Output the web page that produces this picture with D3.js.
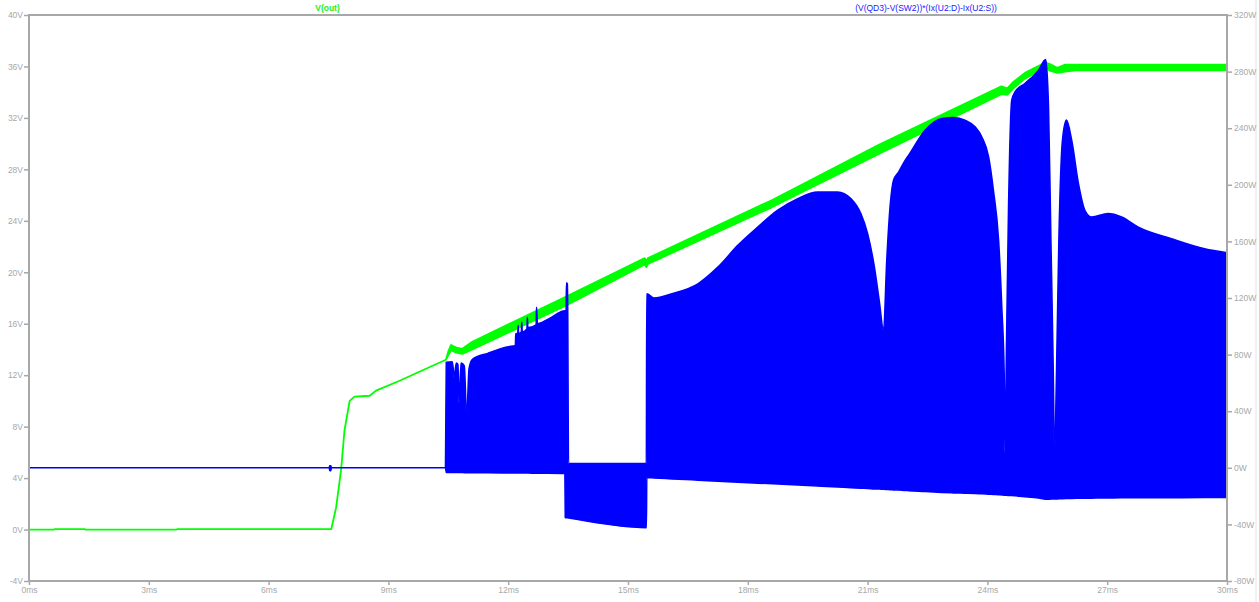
<!DOCTYPE html>
<html>
<head>
<meta charset="utf-8">
<script src="https://d3js.org/d3.v7.min.js"></script>
<style>
  body { margin: 0; background: #fff; }
  svg { display: block; }
  .tick text { font-family: "Liberation Sans", Arial, sans-serif; font-size: 8.5px; fill: #a8a8a8; }
  .tick line { stroke: #a8a8a8; stroke-width: 1.5; }
  .domain { display: none; }
</style>
</head>
<body>
<svg id="chart" width="1259" height="602"></svg>
<script>
// time axis, ms
const timeTicks = [0, 3, 6, 9, 12, 15, 18, 21, 24, 27, 30];
const voltTicks = [-4, 0, 4, 8, 12, 16, 20, 24, 28, 32, 36, 40];
const wattTicks = [-80, -40, 0, 40, 80, 120, 160, 200, 240, 280, 320];

// V(out): ripple band, upper and lower edge (V)
const voutT  = [0, 0.63, 0.64, 1.4, 1.41, 3.7, 3.71, 7.57, 7.69, 7.78, 7.82, 7.9, 8.03, 8.15, 8.53, 8.69, 9.28, 9.94, 10.44, 10.5, 10.57, 10.7, 10.85, 11.1, 13.44, 15.42, 15.46, 15.5, 18.6, 21.28, 24.35, 24.5, 24.65, 24.94, 25.45, 25.55, 25.75, 25.95, 26.2, 30];
const voutHi = [0, 0, 0.04, 0.04, 0, 0, 0.04, 0.04, 1.7, 3.8, 4.8, 7.7, 10.0, 10.33, 10.4, 10.8, 11.57, 12.5, 13.2, 13.85, 14.35, 14.15, 14.05, 14.6, 18.1, 21.1, 20.9, 21.1, 25.6, 29.9, 34.45, 34.3, 34.8, 35.5, 36.3, 36.2, 35.9, 36.15, 36.15, 36.15];
const voutLo = [0, 0, 0.04, 0.04, 0, 0, 0.04, 0.04, 1.7, 3.8, 4.8, 7.7, 10.0, 10.33, 10.4, 10.8, 11.57, 12.5, 13.2, 13.55, 13.95, 13.75, 13.65, 14.0, 17.4, 20.6, 20.4, 20.65, 25.05, 29.2, 33.85, 33.8, 34.3, 35.05, 35.95, 35.7, 35.5, 35.6, 35.7, 35.7];

// (V(QD3)-V(SW2))*(Ix(U2:D)-Ix(U2:S)): switching envelope (W)
const pwrT  = [0, 7.52, 7.53, 7.56, 7.57, 10.43, 10.45, 10.6, 10.65, 10.7, 10.74, 10.77, 10.82, 10.9, 10.96, 11.02, 11.1, 11.5, 12.0, 12.18, 12.19, 12.24, 12.25, 12.26, 12.33, 12.34, 12.35, 12.47, 12.48, 12.49, 12.7, 12.71, 12.73, 13.0, 13.42, 13.43, 13.45, 13.46, 13.48, 13.49, 13.51, 15.46, 15.47, 15.65, 16.1, 16.75, 17.25, 17.75, 18.25, 18.75, 19.25, 19.75, 20.25, 20.58, 20.83, 21.0, 21.17, 21.29, 21.4, 21.48, 21.57, 21.65, 21.78, 21.94, 22.03, 22.44, 22.86, 23.15, 23.44, 23.69, 23.86, 24.03, 24.15, 24.28, 24.36, 24.42, 24.44, 24.48, 24.53, 24.61, 24.7, 24.94, 25.28, 25.46, 25.53, 25.59, 25.65, 25.68, 25.73, 25.79, 25.88, 25.98, 26.11, 26.28, 26.44, 26.61, 27.02, 27.36, 27.78, 28.61, 29.44, 30];
const pwrHi = [0, 0, 1.5, 1.5, 0, 0, 74.6, 75, 64, 74, 73, 46, 74, 72, 35.6, 70, 76.5, 81, 85.5, 86.4, 94.7, 95, 100.5, 95, 96, 102.9, 96, 98, 106.4, 99, 101, 113.5, 101.7, 105, 111, 111, 111.1, 130.8, 130, 112, 3.0, 3.0, 123, 120, 123, 130, 141.8, 157.2, 170.1, 182, 190.2, 194.9, 194.9, 190.2, 179.6, 165.5, 141.8, 118.2, 97, 146.6, 186.7, 203.2, 209.1, 217.3, 221, 238.6, 246.9, 247.6, 245.7, 241, 233.8, 219.7, 196.1, 160.7, 113.5, 66.3, 9.7, 90, 184.3, 259.8, 266, 271.6, 281, 288.6, 255.1, 160.7, 66.3, 6.1, 66, 160.7, 231.5, 245.7, 231.5, 200.8, 182, 177.2, 179.6, 177.2, 170.1, 161.9, 154.8, 152];
const pwrLo = [0, 0, -2, -2, 0, 0, -3.3, -3.3, -3.3, -3.3, -3.3, -3.3, -3.3, -3.4, -3.4, -3.4, -3.4, -3.5, -3.6, -3.6, -3.6, -3.6, -3.6, -3.6, -3.6, -3.6, -3.7, -3.7, -3.7, -3.7, -3.8, -3.8, -3.8, -3.9, -4.0, -35.2, -35.2, -35.3, -35.3, -35.3, -35.4, -42.3, -6.9, -7.2, -7.8, -8.7, -9.4, -10.1, -10.8, -11.5, -12.2, -12.9, -13.6, -14.0, -14.4, -14.6, -14.9, -15.0, -15.2, -15.3, -15.4, -15.6, -15.7, -16.0, -16.1, -16.8, -17.4, -17.7, -17.9, -18.1, -18.3, -18.6, -18.8, -19.0, -19.2, -19.3, -19.4, -19.4, -19.5, -19.6, -19.8, -20.4, -21.4, -22.2, -22.2, -22.1, -22.0, -22.0, -22.0, -21.9, -21.8, -21.7, -21.6, -21.5, -21.4, -21.4, -21.3, -21.2, -21.2, -21.1, -21.0, -21.0];

const svg = d3.select("#chart");
const plotL = 29, plotR = 1227, plotT = 15, plotB = 581;

const x = d3.scaleLinear().domain([0, 30]).range([plotL, plotR]);
const yV = d3.scaleLinear().domain([-4, 40]).range([plotB, plotT]);
const yW = d3.scaleLinear().domain([-80, 320]).range([plotB, plotT]);

svg.append("defs").append("clipPath").attr("id", "plot")
    .append("rect").attr("x", plotL).attr("y", plotT)
    .attr("width", plotR - plotL).attr("height", plotB - plotT);

// window edge on the right
svg.append("line").attr("x1", 1256).attr("x2", 1256).attr("y1", 0).attr("y2", 602)
    .attr("stroke", "#e4e4e4").attr("stroke-width", 1);

const g = svg.append("g").attr("clip-path", "url(#plot)");

const vout = voutT.map((t, i) => ({ t: t, hi: voutHi[i], lo: voutLo[i] }));
const pwr = pwrT.map((t, i) => ({ t: t, hi: pwrHi[i], lo: pwrLo[i] }));

// the output ramp is straight, so plain segments; the power envelope is rounded
const voutArea = d3.area()
    .x(d => x(d.t)).y0(d => yV(d.lo)).y1(d => yV(d.hi));
const pwrArea = d3.area().curve(d3.curveMonotoneX)
    .x(d => x(d.t)).y0(d => yW(d.lo)).y1(d => yW(d.hi));

g.append("path").datum(vout).attr("d", voutArea)
    .attr("fill", "#00ff00").attr("stroke", "#00ff00")
    .attr("stroke-width", 1.8).attr("stroke-linejoin", "round");

g.append("path").datum(pwr).attr("d", pwrArea)
    .attr("fill", "#0000ff").attr("stroke", "#0000ff")
    .attr("stroke-width", 1.6).attr("stroke-linejoin", "round");

// frame
svg.append("rect").attr("x", plotL).attr("y", plotT)
    .attr("width", plotR - plotL).attr("height", plotB - plotT)
    .attr("fill", "none").attr("stroke", "#a8a8a8").attr("stroke-width", 2);

svg.append("g").attr("transform", `translate(${plotL},0)`)
    .call(d3.axisLeft(yV).tickValues(voltTicks).tickFormat(d => d + "V").tickSize(5).tickPadding(1));

svg.append("g").attr("transform", `translate(${plotR},0)`)
    .call(d3.axisRight(yW).tickValues(wattTicks).tickFormat(d => d + "W").tickSize(5).tickPadding(2));

svg.append("g").attr("transform", `translate(0,${plotB})`)
    .call(d3.axisBottom(x).tickValues(timeTicks).tickFormat(d => d + "ms").tickSize(4).tickPadding(2));

// trace names
svg.append("text").attr("x", 327.5).attr("y", 11).attr("text-anchor", "middle")
    .attr("font-family", "Liberation Sans, Arial, sans-serif").attr("font-size", 8.5)
    .attr("font-weight", "bold").attr("fill", "#22ee22").text("V(out)");
svg.append("text").attr("x", 926).attr("y", 11).attr("text-anchor", "middle")
    .attr("font-family", "Liberation Sans, Arial, sans-serif").attr("font-size", 8.5)
    .attr("fill", "#2020ff").text("(V(QD3)-V(SW2))*(Ix(U2:D)-Ix(U2:S))");
</script>
</body>
</html>
